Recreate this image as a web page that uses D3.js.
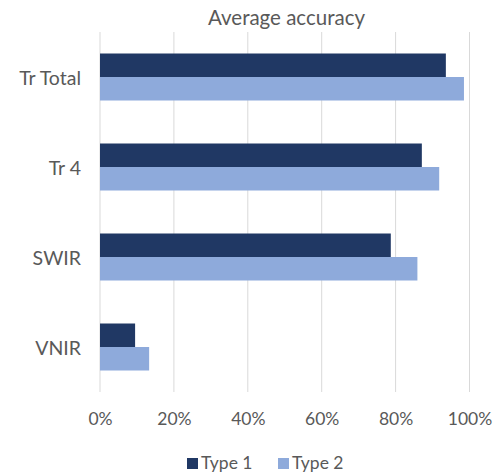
<!DOCTYPE html>
<html>
<head>
<meta charset="utf-8">
<script src="https://cdn.jsdelivr.net/npm/d3@7"></script>
<style>
  html, body { margin: 0; padding: 0; background: #fff; }
  svg { display: block; font-family: Lato, "Open Sans", sans-serif; }
</style>
</head>
<body>
<svg id="chart" width="495" height="474"></svg>
<script>
// Categories, top to bottom
const categories = ["Tr Total", "Tr 4", "SWIR", "VNIR"];
// Series names
const seriesNames = ["Type 1", "Type 2"];
// Average accuracy (fraction) per category
const type1Values = [0.936, 0.871, 0.787, 0.095];
const type2Values = [0.985, 0.918, 0.859, 0.133];
// Axis ticks
const tickValues = [0, 0.2, 0.4, 0.6, 0.8, 1.0];
const colors = ["#203864", "#8eaadb"];

const data = categories.map((c, i) => ({
  category: c,
  values: [
    { series: seriesNames[0], value: type1Values[i] },
    { series: seriesNames[1], value: type2Values[i] }
  ]
}));

const svg = d3.select("#chart");
const margin = { left: 100, right: 25.5, top: 32, bottom: 82 };
const W = 495, H = 474;
const textColor = "#595959";

const x = d3.scaleLinear().domain([0, 1]).range([margin.left, W - margin.right]);
const y = d3.scaleBand().domain(categories).range([margin.top, H - margin.bottom]).padding(0);
const ySub = d3.scaleBand().domain(seriesNames).range([0, y.bandwidth()])
  .paddingInner(0).paddingOuter(0.915);
const color = d3.scaleOrdinal().domain(seriesNames).range(colors);

// Vertical gridlines
svg.append("g")
  .selectAll("line")
  .data(tickValues)
  .join("line")
  .attr("x1", d => x(d)).attr("x2", d => x(d))
  .attr("y1", margin.top).attr("y2", H - margin.bottom)
  .attr("stroke", "#d9d9d9")
  .attr("stroke-width", 1);

// Bars
const groups = svg.append("g")
  .selectAll("g")
  .data(data)
  .join("g")
  .attr("transform", d => `translate(0,${y(d.category)})`);

groups.selectAll("rect")
  .data(d => d.values)
  .join("rect")
  .attr("x", x(0))
  .attr("y", d => ySub(d.series))
  .attr("width", d => x(d.value) - x(0))
  .attr("height", ySub.bandwidth())
  .attr("fill", d => color(d.series));

// Category labels
svg.append("g")
  .selectAll("text")
  .data(categories)
  .join("text")
  .attr("x", margin.left - 19)
  .attr("y", d => y(d) + y.bandwidth() / 2 + 7.5)
  .attr("text-anchor", "end")
  .attr("font-size", 19.5)
  .attr("fill", textColor)
  .text(d => d);

// X axis tick labels
const xAxis = d3.axisBottom(x).tickValues(tickValues).tickFormat(d3.format(".0%")).tickSize(0).tickPadding(0);
const axisG = svg.append("g")
  .attr("transform", `translate(0,${H - margin.bottom})`)
  .call(xAxis);
axisG.select(".domain").remove();
axisG.selectAll("text")
  .attr("y", 32.5)
  .attr("dy", null)
  .attr("font-size", 17.5)
  .attr("fill", textColor)
  .attr("font-family", "Lato, \"Open Sans\", sans-serif");

// Title
svg.append("text")
  .attr("x", 286.5)
  .attr("y", 25)
  .attr("text-anchor", "middle")
  .attr("font-size", 20.5)
  .attr("fill", textColor)
  .text("Average accuracy");

// Legend
const legend = svg.append("g").attr("transform", "translate(187,458)");
const legendOffsets = [0, 91];
const items = legend.selectAll("g")
  .data(seriesNames)
  .join("g")
  .attr("transform", (d, i) => `translate(${legendOffsets[i]},0)`);
items.append("rect")
  .attr("width", 11).attr("height", 11)
  .attr("fill", d => color(d));
items.append("text")
  .attr("x", 14)
  .attr("y", 10.5)
  .attr("font-size", 17.5)
  .attr("fill", textColor)
  .text(d => d);
</script>
</body>
</html>
